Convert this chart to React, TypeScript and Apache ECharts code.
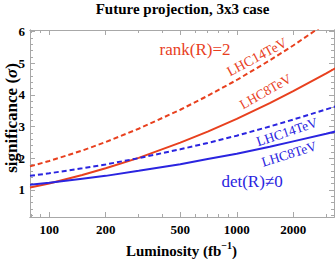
import React, { useEffect, useRef } from 'react';
import * as echarts from 'echarts';

const luminosity = [79, 100, 150, 200, 300, 500, 700, 1000, 1500, 2000, 3000, 3350];
const rankLHC14 = [1.74, 1.91, 2.24, 2.51, 2.93, 3.53, 3.97, 4.47, 5.09, 5.56, 6.27, 6.46];
const rankLHC8 = [1.07, 1.2, 1.47, 1.68, 2.01, 2.49, 2.84, 3.24, 3.74, 4.12, 4.68, 4.84];
const detLHC14 = [1.44, 1.52, 1.68, 1.8, 2.0, 2.28, 2.48, 2.71, 3.0, 3.22, 3.54, 3.63];
const detLHC8 = [1.16, 1.22, 1.35, 1.44, 1.6, 1.81, 1.97, 2.14, 2.36, 2.53, 2.77, 2.84];

const xMajorTicks = [100, 200, 500, 1000, 2000];
const xMinorTicks = [80, 90, 300, 400, 600, 700, 800, 900, 3000];
const yMajorTicks = [1, 2, 3, 4, 5, 6];
const yMinorTicks = [0.2, 0.4, 0.6, 0.8, 1.2, 1.4, 1.6, 1.8, 2.2, 2.4, 2.6, 2.8, 3.2, 3.4, 3.6, 3.8, 4.2, 4.4, 4.6, 4.8, 5.2, 5.4, 5.6, 5.8];

const xRange = [79, 3300];
const yRange = [0.14, 6.05];

const RED = '#e8401e';
const BLUE = '#2a24e0';
const FRAME = '#a8a8a8';
const SERIF = '"Liberation Serif", "Times New Roman", serif';

const lg = (v: number) => Math.log10(v);

export default function App() {
  const ref = useRef<HTMLDivElement>(null);
  useEffect(() => {
    if (!ref.current) return;
    const chart = echarts.init(ref.current, undefined, { renderer: 'svg' });
    const xMin = lg(xRange[0]);
    const xMax = lg(xRange[1]);
    const baseX = (position: 'bottom' | 'top', ticks: number[], len: number, labels: boolean) => ({
      type: 'value',
      position,
      min: xMin,
      max: xMax,
      axisLine: { show: true, onZero: false, lineStyle: { color: FRAME, width: 1 } },
      axisTick: { show: true, inside: true, length: len, customValues: ticks.map(lg), lineStyle: { color: FRAME } },
      axisLabel: labels
        ? {
            show: true,
            customValues: ticks.map(lg),
            formatter: (v: number) => String(Math.round(Math.pow(10, v))),
            fontFamily: SERIF,
            fontWeight: 'bold',
            fontSize: 13,
            color: '#000',
            margin: 6,
          }
        : { show: false },
      splitLine: { show: false },
    });
    const baseY = (position: 'left' | 'right', ticks: number[], len: number, labels: boolean) => ({
      type: 'value',
      position,
      min: yRange[0],
      max: yRange[1],
      axisLine: { show: true, onZero: false, lineStyle: { color: FRAME, width: 1 } },
      axisTick: { show: true, inside: true, length: len, customValues: ticks, lineStyle: { color: FRAME } },
      axisLabel: labels
        ? {
            show: true,
            customValues: ticks,
            fontFamily: SERIF,
            fontWeight: 'bold',
            fontSize: 13,
            color: '#000',
            margin: 5,
          }
        : { show: false },
      splitLine: { show: false },
    });
    const mk = (name: string, vals: number[], color: string, dashed: boolean) => ({
      name,
      type: 'line',
      xAxisIndex: 0,
      yAxisIndex: 0,
      data: luminosity.map((l, i) => [lg(l), vals[i]]),
      showSymbol: false,
      smooth: false,
      clip: true,
      lineStyle: { color, width: 2, type: dashed ? [5, 3] : 'solid' },
    });
    const txt = (text: string, x: number, y: number, color: string, size: number, rotDeg = 0) => ({
      type: 'text',
      x,
      y,
      rotation: (rotDeg * Math.PI) / 180,
      style: {
        text,
        fill: color,
        fontFamily: SERIF,
        fontSize: size,
        align: 'center',
        verticalAlign: 'middle',
      },
    });
    chart.setOption({
      animation: false,
      backgroundColor: '#fff',
      grid: { left: 30, right: 1, top: 30, bottom: 42 },
      xAxis: [
        baseX('bottom', xMajorTicks, 5, true),
        baseX('bottom', xMinorTicks, 3, false),
        baseX('top', xMajorTicks, 5, false),
        baseX('top', xMinorTicks, 3, false),
      ],
      yAxis: [
        baseY('left', yMajorTicks, 5, true),
        baseY('left', yMinorTicks, 3, false),
        baseY('right', yMajorTicks, 5, false),
        baseY('right', yMinorTicks, 3, false),
      ],
      series: [
        mk('rank LHC14TeV', rankLHC14, RED, true),
        mk('rank LHC8TeV', rankLHC8, RED, false),
        mk('det LHC14TeV', detLHC14, BLUE, true),
        mk('det LHC8TeV', detLHC8, BLUE, false),
      ],
      graphic: [
        {
          type: 'text',
          x: 182.5,
          y: 9,
          style: {
            text: 'Future projection, 3x3 case',
            fill: '#000',
            fontFamily: SERIF,
            fontWeight: 'bold',
            fontSize: 15,
            align: 'center',
            verticalAlign: 'middle',
          },
        },
        {
          type: 'text',
          x: 181.5,
          y: 249,
          style: {
            text: '{b|Luminosity (fb}{s|−1}{b|)}',
            fill: '#000',
            align: 'center',
            verticalAlign: 'middle',
            rich: {
              b: { fontFamily: SERIF, fontWeight: 'bold', fontSize: 15, lineHeight: 18, verticalAlign: 'bottom' },
              s: { fontFamily: SERIF, fontWeight: 'bold', fontSize: 10, lineHeight: 18, verticalAlign: 'top', padding: [0, 0, 6, 0] },
            },
          },
        },
        {
          type: 'text',
          x: 11,
          y: 118,
          rotation: Math.PI / 2,
          style: {
            text: '{b|significance (}{i|σ}{b|)}',
            fill: '#000',
            align: 'center',
            verticalAlign: 'middle',
            rich: {
              b: { fontFamily: SERIF, fontWeight: 'bold', fontSize: 17 },
              i: { fontFamily: SERIF, fontWeight: 'bold', fontStyle: 'italic', fontSize: 17 },
            },
          },
        },
        txt('rank(R)=2', 195, 49, RED, 17),
        txt('det(R)≠0', 252, 181, BLUE, 17),
        txt('LHC14TeV', 257, 57, RED, 14, 28),
        txt('LHC8TeV', 265.5, 91.5, RED, 13.5, 29.5),
        txt('LHC14TeV', 287, 132, BLUE, 13.5, 18.5),
        txt('LHC8TeV', 289, 154, BLUE, 13.5, 17.5),
      ],
    });
    return () => chart.dispose();
  }, []);
  return <div ref={ref} style={{ position: 'fixed', left: 0, top: 0, width: 335, height: 259 }} />;
}
